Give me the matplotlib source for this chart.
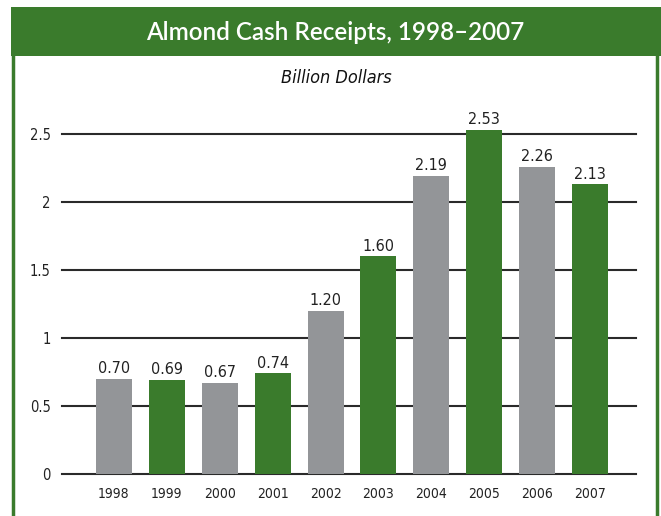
import matplotlib
matplotlib.use("Agg")
import matplotlib.pyplot as plt
from matplotlib.patches import Rectangle
from matplotlib.lines import Line2D
from matplotlib import font_manager

years = ["1998", "1999", "2000", "2001", "2002", "2003", "2004", "2005", "2006", "2007"]
values = [0.70, 0.69, 0.67, 0.74, 1.20, 1.60, 2.19, 2.53, 2.26, 2.13]
value_labels = ["0.70", "0.69", "0.67", "0.74", "1.20", "1.60", "2.19", "2.53", "2.26", "2.13"]
yticks = [0, 0.5, 1, 1.5, 2, 2.5]
ytick_labels = ["0", "0.5", "1", "1.5", "2", "2.5"]
title = "Almond Cash Receipts, 1998–2007"
subtitle = "Billion Dollars"

GREEN = "#3a7b2c"
GRAY = "#939598"

names = {f.name for f in font_manager.fontManager.ttflist}
if "Liberation Sans Narrow" in names:
    NARROW = dict(family="Liberation Sans Narrow")
else:
    NARROW = dict(family="DejaVu Sans", stretch="condensed")

W, H = 661, 516
fig = plt.figure(figsize=(W / 100, H / 100), dpi=100)
fig.patch.set_facecolor("white")

def fx(px):
    return px / W

def fy(py):
    return 1 - py / H

# header band
fig.patches.append(Rectangle((fx(11), fy(56)), fx(661) - fx(11), fy(7) - fy(56),
                             transform=fig.transFigure, facecolor=GREEN, edgecolor="none", zorder=0))
# side borders
fig.lines.append(Line2D([fx(13), fx(13)], [fy(56), fy(516)], transform=fig.transFigure,
                        color=GREEN, linewidth=2.5))
fig.lines.append(Line2D([fx(657), fx(657)], [fy(56), fy(516)], transform=fig.transFigure,
                        color=GREEN, linewidth=2.5))

fig.text(fx(335), fy(32), title, color="white", fontsize=17.5, fontweight="semibold",
         family=["Lato", "DejaVu Sans"], ha="center", va="center")
fig.text(fx(336), fy(78), subtitle, color="#111111", fontsize=13, style="italic",
         ha="center", va="center", **NARROW)

ax = fig.add_axes([fx(62), fy(474), fx(636) - fx(62), fy(134) - fy(474)])
x = list(range(len(years)))
colors = [GRAY if i % 2 == 0 else GREEN for i in x]
bars = ax.bar(x, values, width=0.68, color=colors, zorder=3)
for b in bars:
    b.set_clip_on(False)
for xi, v, lab in zip(x, values, value_labels):
    ax.annotate(lab, (xi, v), xytext=(0, 2), textcoords="offset points", ha="center", va="bottom",
                fontsize=11.5, color="#222222", annotation_clip=False, **NARROW)

ax.set_xlim(-0.983, 9.87)
ax.set_ylim(0, 2.5)
for t in yticks:
    ax.axhline(t, color="#2a2a2a", linewidth=1.5, zorder=1, clip_on=False)
ax.set_yticks(yticks)
ax.set_yticklabels(ytick_labels, fontsize=10.5, color="#222222", **NARROW)
ax.set_xticks(x)
ax.set_xticklabels(years, fontsize=10, color="#222222", **NARROW)
ax.tick_params(axis="y", length=0, pad=8)
ax.tick_params(axis="x", length=0, pad=9)
for s in ax.spines.values():
    s.set_visible(False)
ax.set_facecolor("none")

fig.savefig("out.png", dpi=100)
